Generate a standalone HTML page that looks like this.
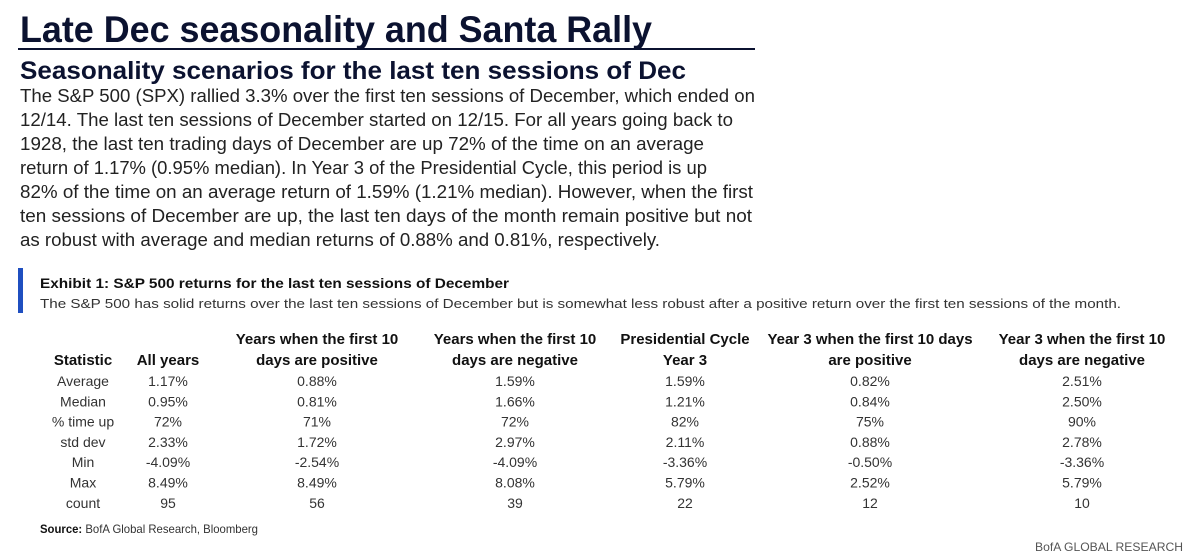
<!DOCTYPE html>
<html><head><meta charset="utf-8">
<style>
html,body{margin:0;padding:0;background:#fff;width:1200px;height:559px;overflow:hidden}
svg{display:block}
text{font-family:"Liberation Sans Narrow","Liberation Sans",sans-serif}
.t{fill:#0b1230;font-weight:bold}
.p{fill:#222;font-size:18px}
.h{fill:#111;font-weight:bold;font-size:15px}
.d{fill:#333;font-size:14px}
</style></head>
<body>
<svg id="s" width="1200" height="559" viewBox="0 0 1200 559">
<text class="t" x="20" y="42" font-size="37" textLength="632" lengthAdjust="spacingAndGlyphs">Late Dec seasonality and Santa Rally</text>
<rect x="18" y="48" width="737" height="2" fill="#0b1230"/>
<text class="t" x="20" y="79" font-size="25" textLength="666" lengthAdjust="spacingAndGlyphs">Seasonality scenarios  for the last ten sessions of Dec</text>
<g>
<text class="p" x="20" y="102" textLength="735" lengthAdjust="spacingAndGlyphs">The S&amp;P 500 (SPX) rallied 3.3% over the first ten sessions of December, which ended on</text>
<text class="p" x="20" y="126" textLength="713" lengthAdjust="spacingAndGlyphs">12/14. The last ten sessions of December started on 12/15. For all years going back to</text>
<text class="p" x="20" y="150" textLength="684" lengthAdjust="spacingAndGlyphs">1928, the last ten trading days of December are up 72% of the time on an average</text>
<text class="p" x="20" y="174" textLength="687" lengthAdjust="spacingAndGlyphs">return of 1.17% (0.95% median). In Year 3 of the Presidential Cycle, this period is up</text>
<text class="p" x="20" y="198" textLength="733" lengthAdjust="spacingAndGlyphs">82% of the time on an average return of 1.59% (1.21% median). However, when the first</text>
<text class="p" x="20" y="222" textLength="732" lengthAdjust="spacingAndGlyphs">ten sessions of December are up, the last ten days of the month remain positive but not</text>
<text class="p" x="20" y="246" textLength="640" lengthAdjust="spacingAndGlyphs">as robust with average and median returns of 0.88% and 0.81%, respectively.</text>
</g>
<rect x="18" y="268" width="5" height="45" fill="#1f4fc0"/>
<text x="40" y="288" font-size="14" font-weight="bold" fill="#111" textLength="469" lengthAdjust="spacingAndGlyphs">Exhibit 1: S&amp;P 500 returns for the last ten sessions of December</text>
<text x="40" y="308" font-size="13" fill="#333" textLength="1081" lengthAdjust="spacingAndGlyphs">The S&amp;P 500 has solid returns over the last ten sessions of December but is somewhat less robust after a positive return over the first ten sessions of the month.</text>
<g id="tbl"></g>
<text x="40" y="533" font-size="12" fill="#333" textLength="218" lengthAdjust="spacingAndGlyphs"><tspan font-weight="bold" fill="#111">Source:</tspan>  BofA Global Research, Bloomberg</text>
<text x="1035" y="551" font-size="12" fill="#555" textLength="148" lengthAdjust="spacingAndGlyphs">BofA GLOBAL RESEARCH</text>
</svg>
<script>
const statLabels = ["Average","Median","% time up","std dev","Min","Max","count"];
const allYears = ["1.17%","0.95%","72%","2.33%","-4.09%","8.49%","95"];
const firstPos = ["0.88%","0.81%","71%","1.72%","-2.54%","8.49%","56"];
const firstNeg = ["1.59%","1.66%","72%","2.97%","-4.09%","8.08%","39"];
const presY3 = ["1.59%","1.21%","82%","2.11%","-3.36%","5.79%","22"];
const y3Pos = ["0.82%","0.84%","75%","0.88%","-0.50%","2.52%","12"];
const y3Neg = ["2.51%","2.50%","90%","2.78%","-3.36%","5.79%","10"];
const headers = [
  ["","Statistic"],["","All years"],
  ["Years when the first 10","days are positive"],
  ["Years when the first 10","days are negative"],
  ["Presidential Cycle","Year 3"],
  ["Year 3 when the first 10 days","are positive"],
  ["Year 3 when the first 10","days are negative"]
];
const cols = [statLabels, allYears, firstPos, firstNeg, presY3, y3Pos, y3Neg];
const NS = "http://www.w3.org/2000/svg";
const g = document.getElementById("tbl");
const colX = [83,168,317,515,685,870,1082];
const rowY = i => 386 + i*20.3;
function txt(x,y,s,cls){
  const t=document.createElementNS(NS,"text");
  t.setAttribute("x",x);t.setAttribute("y",y);
  t.setAttribute("text-anchor","middle");
  t.setAttribute("class",cls);
  t.textContent=s;g.appendChild(t);return t;
}
headers.forEach((h,c)=>{
  if(h[0]){const t=txt(colX[c],344,h[0],"h");
    
    }
  const t2=txt(colX[c],365,h[1],"h");
  
  
});
cols.forEach((arr,c)=>{
  arr.forEach((v,i)=>{
    const t=txt(colX[c],rowY(i),v,"d");
    
    
  });
});
</script>
</body></html>
